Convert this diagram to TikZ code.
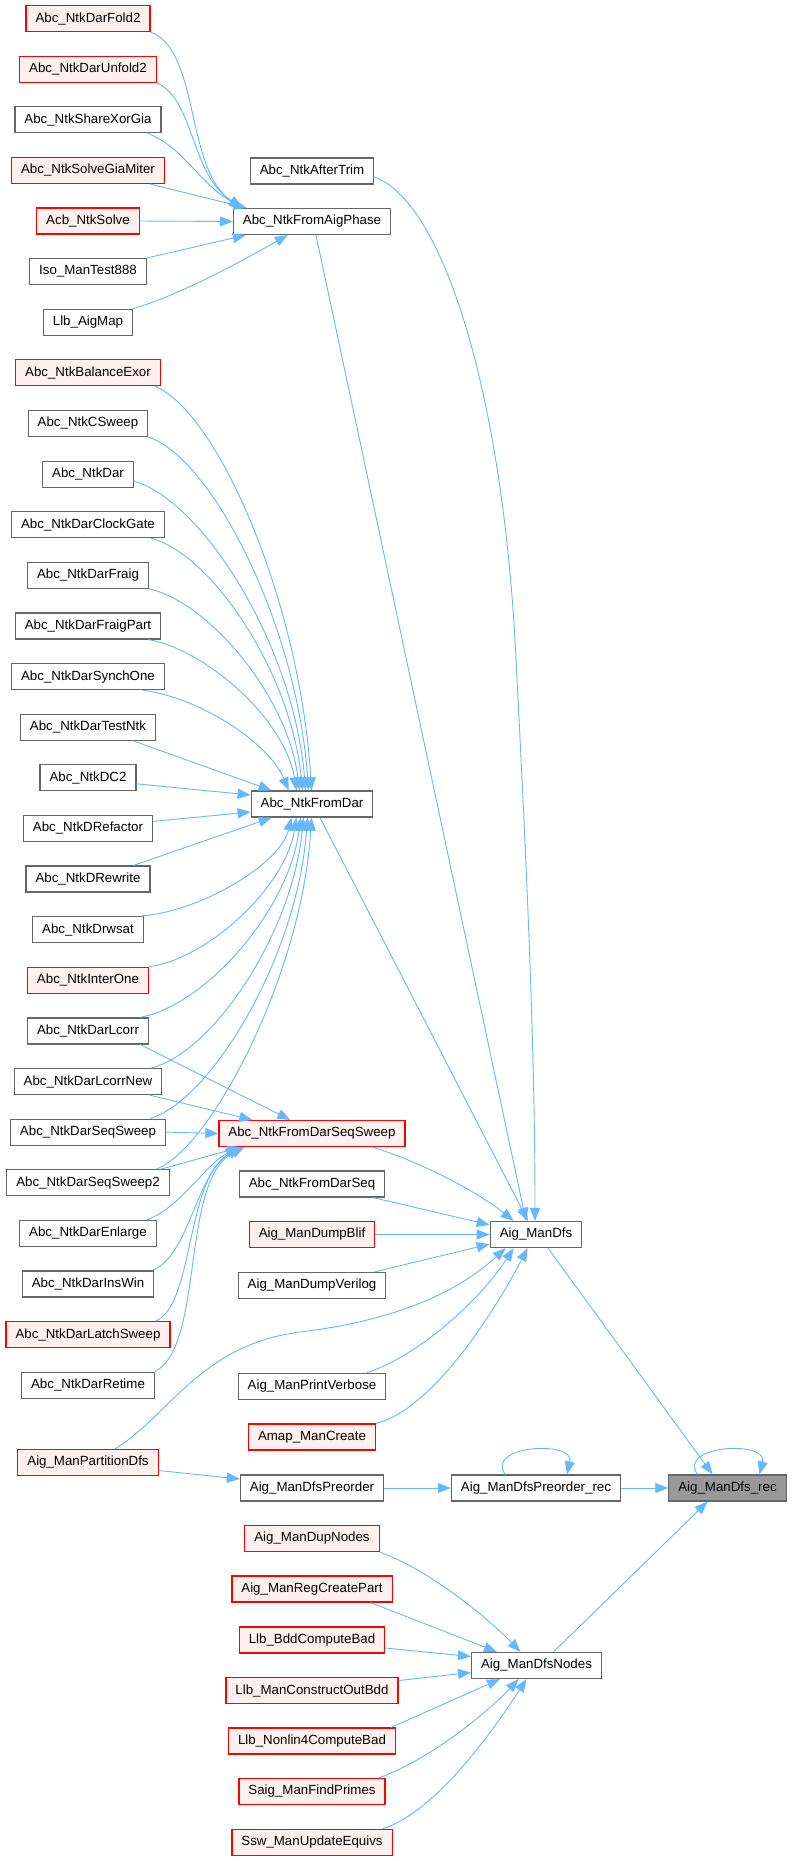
\documentclass[tikz,border=0pt]{standalone}
\usepackage{fontspec}
\setmainfont{Liberation Sans}
\usepackage{xcolor}
\definecolor{azulArista}{HTML}{63B8FF}
\definecolor{grisBorde}{HTML}{666666}
\definecolor{rojoFondo}{HTML}{FFF0F0}
\definecolor{grisActual}{HTML}{999999}
\usepackage{tikz}
\usetikzlibrary{arrows.meta, positioning, calc}

\begin{document}
\begin{tikzpicture}[
  x=1pt, y=-1pt,
  fn/.style={rectangle, draw=grisBorde, fill=white, line width=1.2pt,
             minimum height=26pt, inner xsep=9.5pt, inner ysep=0pt,
             font=\fontsize{13.3}{15}\selectfont},
  fnred/.style={fn, draw=red, fill=rojoFondo},
  fncur/.style={fn, fill=grisActual},
  calls/.style={-{Triangle[length=13pt,width=10pt]}, draw=azulArista, line width=0.9pt}
]
  \useasboundingbox (0,0) rectangle (792,1861);

  % Llamadores (columna izquierda)
  \node[fnred] (fold2) at (88,18.5) {Abc\_NtkDarFold2};
  \node[fnred] (unfold2) at (88,69.1) {Abc\_NtkDarUnfold2};
  \node[fn] (sharexor) at (88,119.7) {Abc\_NtkShareXorGia};
  \node[fnred] (solvemiter) at (88,170.4) {Abc\_NtkSolveGiaMiter};
  \node[fnred] (acbsolve) at (88,221) {Acb\_NtkSolve};
  \node[fn] (isotest) at (88,271.6) {Iso\_ManTest888};
  \node[fn] (llbaigmap) at (88,322.2) {Llb\_AigMap};
  \node[fnred] (balexor) at (88,372.8) {Abc\_NtkBalanceExor};
  \node[fn] (csweep) at (88,423.5) {Abc\_NtkCSweep};
  \node[fn] (ntkdar) at (88,474.1) {Abc\_NtkDar};
  \node[fn] (clockgate) at (88,524.7) {Abc\_NtkDarClockGate};
  \node[fn] (darfraig) at (88,575.3) {Abc\_NtkDarFraig};
  \node[fn] (fraigpart) at (88,625.9) {Abc\_NtkDarFraigPart};
  \node[fn] (synchone) at (88,676.6) {Abc\_NtkDarSynchOne};
  \node[fn] (testntk) at (88,727.2) {Abc\_NtkDarTestNtk};
  \node[fn] (ntkdc2) at (88,777.8) {Abc\_NtkDC2};
  \node[fn] (drefactor) at (88,828.4) {Abc\_NtkDRefactor};
  \node[fn] (drewrite) at (88,879) {Abc\_NtkDRewrite};
  \node[fn] (drwsat) at (88,929.7) {Abc\_NtkDrwsat};
  \node[fnred] (interone) at (88,980.3) {Abc\_NtkInterOne};
  \node[fn] (darlcorr) at (88,1030.9) {Abc\_NtkDarLcorr};
  \node[fn] (lcorrnew) at (88,1081.5) {Abc\_NtkDarLcorrNew};
  \node[fn] (seqsweep) at (88,1132.1) {Abc\_NtkDarSeqSweep};
  \node[fn] (seqsweep2) at (88,1182.8) {Abc\_NtkDarSeqSweep2};
  \node[fn] (darenlarge) at (88,1233.4) {Abc\_NtkDarEnlarge};
  \node[fn] (inswin) at (88,1284) {Abc\_NtkDarInsWin};
  \node[fnred] (latchsweep) at (88,1334.6) {Abc\_NtkDarLatchSweep};
  \node[fn] (darretime) at (88,1385.2) {Abc\_NtkDarRetime};
  \node[fnred] (partdfs) at (88,1462.5) {Aig\_ManPartitionDfs};

  % Columna central
  \node[fn] (aftertrim) at (312,171) {Abc\_NtkAfterTrim};
  \node[fn] (phase) at (312,221.5) {Abc\_NtkFromAigPhase};
  \node[fn] (fromdar) at (312,804) {Abc\_NtkFromDar};
  \node[fnred] (fss) at (312,1133.5) {Abc\_NtkFromDarSeqSweep};
  \node[fn] (fromdarseq) at (312,1184) {Abc\_NtkFromDarSeq};
  \node[fnred] (dumpblif) at (312,1234.5) {Aig\_ManDumpBlif};
  \node[fn] (dumpverilog) at (312,1285.5) {Aig\_ManDumpVerilog};
  \node[fn] (printverbose) at (312,1386.5) {Aig\_ManPrintVerbose};
  \node[fnred] (amapcreate) at (312,1437) {Amap\_ManCreate};
  \node[fn] (preorder) at (312,1488) {Aig\_ManDfsPreorder};
  \node[fnred] (dupnodes) at (312,1538.5) {Aig\_ManDupNodes};
  \node[fnred] (regcreate) at (312,1589) {Aig\_ManRegCreatePart};
  \node[fnred] (bddbad) at (312,1640) {Llb\_BddComputeBad};
  \node[fnred] (outbdd) at (312,1690.5) {Llb\_ManConstructOutBdd};
  \node[fnred] (nonlin4) at (312,1741) {Llb\_Nonlin4ComputeBad};
  \node[fnred] (findprimes) at (312,1791.5) {Saig\_ManFindPrimes};
  \node[fnred] (updequivs) at (312,1842.5) {Ssw\_ManUpdateEquivs};

  % Columna derecha
  \node[fn] (dfs) at (536,1234.5) {Aig\_ManDfs};
  \node[fn] (preorderrec) at (536,1488) {Aig\_ManDfsPreorder\_rec};
  \node[fn] (dfsnodes) at (536.5,1665.5) {Aig\_ManDfsNodes};
  \node[fncur] (dfsrec) at (727.5,1488) {Aig\_ManDfs\_rec};

  % Hacia Abc_NtkFromAigPhase
  \draw[calls] (fold2.south east) .. controls (200,50) and (185,170) .. ([xshift=9pt]phase.north west);
  \draw[calls] (unfold2.south east) .. controls (195,100) and (190,175) .. ([xshift=10pt]phase.north west);
  \draw[calls] ([xshift=-14pt]sharexor.south east) .. controls (185,148) and (200,185) .. ([xshift=11pt]phase.north west);
  \draw[calls] ([xshift=-15pt]solvemiter.south east) -- ([xshift=14pt]phase.north west);
  \draw[calls] (acbsolve.east) -- (phase.west);
  \draw[calls] (isotest.north east) -- ([xshift=13pt]phase.south west);
  \draw[calls] (llbaigmap.north east) .. controls (180,295) and (240,262) .. ([xshift=55pt]phase.south west);

  % Hacia Abc_NtkFromDar (desde arriba)
  \draw[calls] ([xshift=-6pt]balexor.south east) .. controls (217,411) and (300,601) .. ([xshift=61pt]fromdar.north west);
  \draw[calls] (csweep.south east) .. controls (212,458) and (297,625) .. ([xshift=58pt]fromdar.north west);
  \draw[calls] ([yshift=-7pt]ntkdar.east) .. controls (203,501) and (294,646) .. ([xshift=55pt]fromdar.north west);
  \draw[calls] ([xshift=-14pt]clockgate.south east) .. controls (212,554) and (291,673) .. ([xshift=52pt]fromdar.north west);
  \draw[calls] (darfraig.south east) .. controls (209,602) and (288,697) .. ([xshift=49pt]fromdar.north west);
  \draw[calls] ([xshift=-13pt]fraigpart.south east) .. controls (207,650) and (285,720) .. ([xshift=46pt]fromdar.north west);
  \draw[calls] ([xshift=-22pt]synchone.south east) .. controls (201,698) and (270,744) .. ([xshift=38pt]fromdar.north west);
  \draw[calls] ([xshift=-23pt]testntk.south east) -- ([xshift=21pt]fromdar.north west);
  \draw[calls] ([yshift=-6pt]ntkdc2.east) -- ([yshift=9pt]fromdar.west);
  \draw[calls] ([yshift=7pt]drefactor.east) -- ([yshift=-8pt]fromdar.west);

  % Hacia Abc_NtkFromDar (desde abajo)
  \draw[calls] ([xshift=-17pt]drewrite.north east) -- ([xshift=21pt]fromdar.south west);
  \draw[calls] ([xshift=-3pt]drwsat.north east) .. controls (202,911) and (280,864) .. ([xshift=41pt]fromdar.south west);
  \draw[calls] (interone.north east) .. controls (207,959) and (285,888) .. ([xshift=46pt]fromdar.south west);
  \draw[calls] ([xshift=-9pt]darlcorr.north east) .. controls (204,1006) and (289,911) .. ([xshift=50pt]fromdar.south west);
  \draw[calls] ([xshift=-11pt]lcorrnew.north east) .. controls (212,1053) and (292,935) .. ([xshift=53pt]fromdar.south west);
  \draw[calls] ([xshift=-16pt]seqsweep.north east) .. controls (210,1101) and (297,959) .. ([xshift=57pt]fromdar.south west);
  \draw[calls] ([xshift=-14pt]seqsweep2.north east) .. controls (210,1150) and (302,975) .. ([xshift=61pt]fromdar.south west);

  % Hacia Abc_NtkFromDarSeqSweep
  \draw[calls] ([xshift=-9pt]darlcorr.south east) -- ([xshift=72pt]fss.north west);
  \draw[calls] ([xshift=-13pt]lcorrnew.south east) -- ([xshift=34pt]fss.north west);
  \draw[calls] (seqsweep.east) -- (fss.west);
  \draw[calls] ([xshift=-9pt]seqsweep2.north east) -- ([xshift=22pt]fss.south west);
  \draw[calls] ([xshift=-10pt]darenlarge.north east) .. controls (180,1208) and (205,1165) .. ([xshift=20pt]fss.south west);
  \draw[calls] ([xshift=-2pt]inswin.north east) .. controls (190,1255) and (195,1175) .. ([xshift=22pt]fss.south west);
  \draw[calls] ([xshift=-15pt]latchsweep.north east) .. controls (195,1305) and (185,1175) .. ([xshift=24pt]fss.south west);
  \draw[calls] (darretime.north east) .. controls (205,1345) and (180,1180) .. ([xshift=26pt]fss.south west);

  % Hacia Aig_ManDfs
  \draw[calls] ([yshift=-6pt]aftertrim.east) .. controls (440,200) and (500,380) .. (515,640)
    .. controls (527,870) and (535,1050) .. ([xshift=-1pt]dfs.north);
  \draw[calls] ([xshift=4pt]phase.south) -- ([xshift=-10pt]dfs.north);
  \draw[calls] ([xshift=8pt]fromdar.south) -- ([xshift=-8pt]dfs.north);
  \draw[calls] ([xshift=-33pt]fss.south east) .. controls (420,1162) and (475,1190) .. ([xshift=24pt]dfs.north west);
  \draw[calls] ([xshift=-12pt]fromdarseq.south east) -- ([yshift=-4pt]dfs.north west);
  \draw[calls] (dumpblif.east) -- (dfs.west);
  \draw[calls] ([xshift=-12pt]dumpverilog.north east) -- ([yshift=4pt]dfs.south west);
  \draw[calls] ([xshift=27pt]partdfs.north) .. controls (170,1415) and (200,1345) .. (300,1332)
    .. controls (400,1320) and (460,1290) .. ([xshift=16pt]dfs.south west);
  \draw[calls] ([xshift=-20pt]printverbose.north east) .. controls (420,1355) and (480,1300) .. ([xshift=24pt]dfs.south west);
  \draw[calls] (amapcreate.north east) .. controls (430,1410) and (490,1320) .. ([xshift=38pt]dfs.south west);

  % Preorden
  \draw[calls] ([yshift=-8pt]partdfs.east) -- ([yshift=9pt]preorder.west);
  \draw[calls] (preorder.east) -- (preorderrec.west);
  \draw[calls] ([xshift=-31pt]preorderrec.north) .. controls (485,1445) and (575,1440) .. ([xshift=31pt]preorderrec.north);

  % Hacia Aig_ManDfsNodes
  \draw[calls] (dupnodes.south east) .. controls (430,1570) and (490,1620) .. ([xshift=-16pt]dfsnodes.north);
  \draw[calls] ([xshift=-22pt]regcreate.south east) -- ([xshift=26pt]dfsnodes.north west);
  \draw[calls] ([yshift=-8pt]bddbad.east) -- ([yshift=9pt]dfsnodes.west);
  \draw[calls] ([yshift=10pt]outbdd.east) -- ([yshift=-7pt]dfsnodes.west);
  \draw[calls] ([xshift=-5pt]nonlin4.north east) -- ([xshift=29pt]dfsnodes.south west);
  \draw[calls] ([xshift=-7pt]findprimes.north east) .. controls (430,1760) and (490,1710) .. ([xshift=-18pt]dfsnodes.south);
  \draw[calls] ([xshift=-10pt]updequivs.north east) .. controls (440,1810) and (500,1720) .. ([xshift=-10pt]dfsnodes.south);

  % Hacia Aig_ManDfs_rec
  \draw[calls] ([xshift=12pt]dfs.south) -- ([xshift=-15pt]dfsrec.north);
  \draw[calls] (preorderrec.east) -- (dfsrec.west);
  \draw[calls] ([xshift=17pt]dfsnodes.north) -- ([xshift=-20pt]dfsrec.south);
  \draw[calls] ([xshift=-30pt]dfsrec.north) .. controls (677,1445) and (768,1440) .. ([xshift=32pt]dfsrec.north);
\end{tikzpicture}
\end{document}
